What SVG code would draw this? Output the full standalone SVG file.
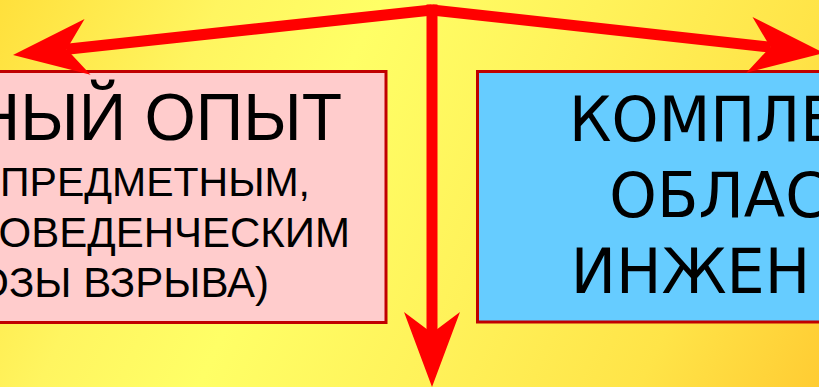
<svg xmlns="http://www.w3.org/2000/svg" width="819" height="387" viewBox="0 0 819 387">
  <defs>
    <linearGradient id="bg" gradientUnits="userSpaceOnUse" x1="0" y1="0" x2="819" y2="387">
      <stop offset="0" stop-color="#ffe03c"/>
      <stop offset="0.22" stop-color="#fff560"/>
      <stop offset="0.38" stop-color="#ffff66"/>
      <stop offset="0.6" stop-color="#fff25a"/>
      <stop offset="0.82" stop-color="#ffe448"/>
      <stop offset="1" stop-color="#ffcc33"/>
    </linearGradient>
    <marker id="ah" markerUnits="userSpaceOnUse" markerWidth="90" markerHeight="70" viewBox="-30 -35 90 70" refX="0" refY="0" orient="auto" overflow="visible">
      <path d="M54,0 L-21,-28 L0,0 L-21,28 Z" fill="#ff0000"/>
    </marker>
  </defs>
  <style>
    .box { stroke: #c00000; stroke-width: 3; }
    .pink { fill: #ffcccc; }
    .blue { fill: #66ccff; }
    .t1 { font-family: "Liberation Sans", Arial, sans-serif; fill: #000; }
    .t2 { font-family: "DejaVu Sans", Verdana, sans-serif; fill: #000; font-size: 63px; }
    .conn { stroke: #ff0000; stroke-width: 11; fill: none; marker-end: url(#ah); }
  </style>
  <rect x="0" y="0" width="819" height="387" fill="url(#bg)"/>

  <g id="node-left">
    <rect class="box pink" x="-100" y="71.5" width="486" height="251"/>
    <text class="t1" font-size="66" x="342" y="140" text-anchor="end">НЫЙ ОПЫТ</text>
    <text class="t1" font-size="41" x="310" y="196" text-anchor="end">ПРЕДМЕТНЫМ,</text>
    <text class="t1" font-size="42" x="350" y="246.5" text-anchor="end">ОВЕДЕНЧЕСКИМ</text>
    <text class="t1" font-size="42" x="269" y="296.5" text-anchor="end">ОЗЫ ВЗРЫВА)</text>
  </g>

  <g id="node-right">
    <rect class="box blue" x="477.5" y="71.5" width="400" height="250.5"/>
    <text class="t2" transform="translate(569.1,141) scale(0.95,1)">КОМПЛЕ</text>
    <text class="t2" transform="translate(609.3,216.5) scale(0.96,1)">ОБЛАС</text>
    <text class="t2" transform="translate(570.7,293) scale(0.96,1)">ИНЖЕН</text>
  </g>

  <g id="connectors">
    <line class="conn" x1="432" y1="10" x2="66.7" y2="49.2"/>
    <line class="conn" x1="432" y1="10" x2="770.3" y2="47.1"/>
    <line class="conn" x1="432" y1="4.5" x2="432" y2="333"/>
  </g>
</svg>
